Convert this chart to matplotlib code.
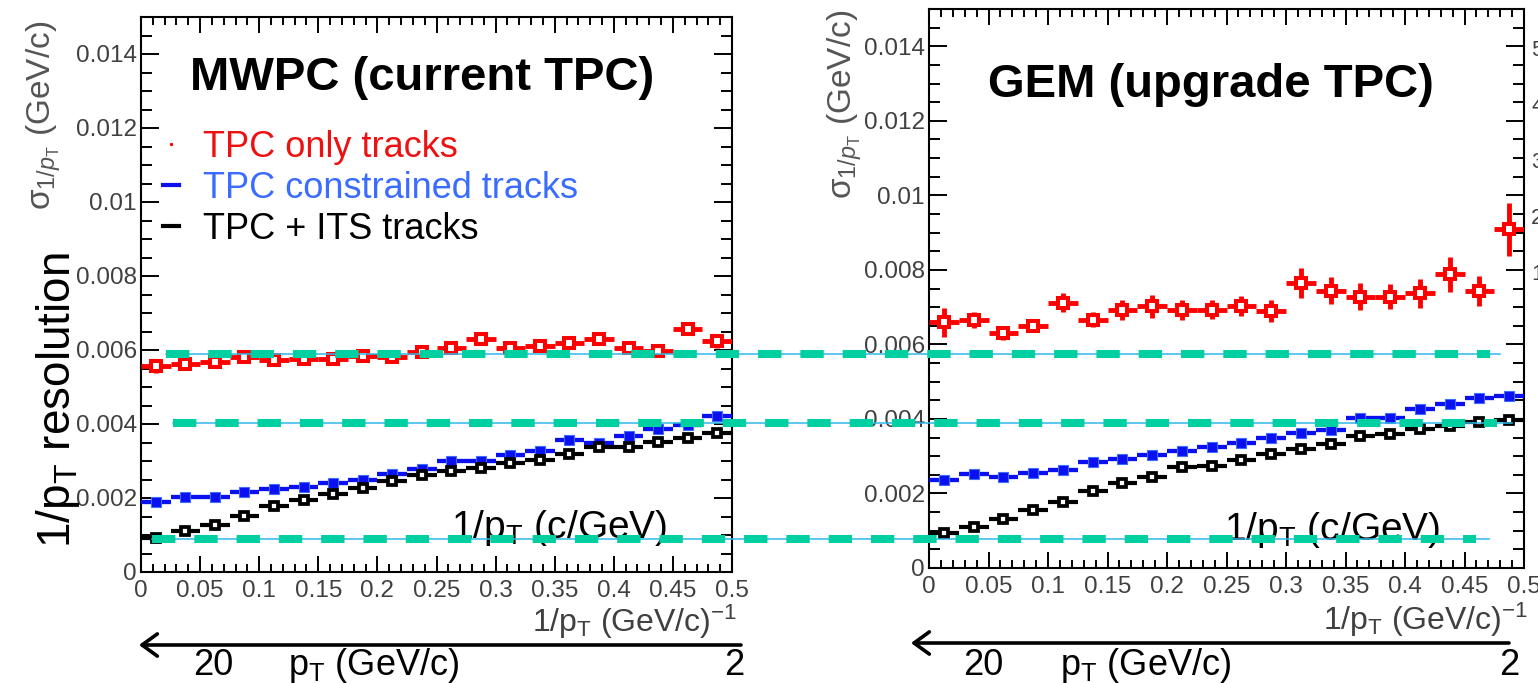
import matplotlib
matplotlib.use("Agg")
import matplotlib.pyplot as plt
import matplotlib.transforms as mtransforms
from matplotlib.lines import Line2D
from matplotlib.ticker import MultipleLocator, FuncFormatter

plt.rcParams['font.family'] = ['Liberation Sans', 'DejaVu Sans']
plt.rcParams['mathtext.fontset'] = 'custom'
plt.rcParams['mathtext.rm'] = 'Liberation Sans'
plt.rcParams['mathtext.it'] = 'Liberation Sans:italic'
plt.rcParams['mathtext.bf'] = 'Liberation Sans:bold'

# bins in 1/pT (GeV/c)^-1
bin_centers = [0.0125, 0.0375, 0.0625, 0.0875, 0.1125, 0.1375, 0.1625, 0.1875, 0.2125, 0.2375,
               0.2625, 0.2875, 0.3125, 0.3375, 0.3625, 0.3875, 0.4125, 0.4375, 0.4625, 0.4875]
bin_width = 0.025

# MWPC (current TPC)
mwpc_tpc_only = [0.00557, 0.00562, 0.00568, 0.00582, 0.00572, 0.00577, 0.00577, 0.00584, 0.00582, 0.00595,
                 0.00606, 0.00629, 0.00606, 0.00610, 0.00618, 0.00629, 0.00606, 0.00597, 0.00658, 0.00624]
mwpc_tpc_only_err = [0.00020, 0.00012, 0.00012, 0.00012, 0.00012, 0.00012, 0.00012, 0.00013, 0.00012, 0.00012,
                     0.00013, 0.00013, 0.00013, 0.00013, 0.00014, 0.00014, 0.00014, 0.00015, 0.00018, 0.00018]
mwpc_constrained = [0.00189, 0.00204, 0.00204, 0.00215, 0.00224, 0.00231, 0.00240, 0.00248, 0.00265, 0.00278,
                    0.00299, 0.00299, 0.00317, 0.00328, 0.00357, 0.00348, 0.00368, 0.00386, 0.00397, 0.00422]
mwpc_its = [0.00093, 0.00110, 0.00128, 0.00152, 0.00178, 0.00194, 0.00212, 0.00227, 0.00245, 0.00263,
            0.00274, 0.00281, 0.00294, 0.00303, 0.00319, 0.00337, 0.00339, 0.00352, 0.00361, 0.00375]

# GEM (upgrade TPC)
gem_tpc_only = [0.00659, 0.00666, 0.00630, 0.00650, 0.00712, 0.00666, 0.00693, 0.00702, 0.00693, 0.00693,
                0.00704, 0.00690, 0.00764, 0.00744, 0.00728, 0.00728, 0.00737, 0.00788, 0.00744, 0.00909]
gem_tpc_only_err = [0.00040, 0.00022, 0.00018, 0.00018, 0.00025, 0.00020, 0.00027, 0.00030, 0.00027, 0.00026,
                    0.00027, 0.00030, 0.00040, 0.00036, 0.00036, 0.00034, 0.00038, 0.00047, 0.00040, 0.00071]
gem_constrained = [0.00236, 0.00252, 0.00245, 0.00254, 0.00263, 0.00284, 0.00292, 0.00303, 0.00313, 0.00326,
                   0.00335, 0.00349, 0.00362, 0.00371, 0.00403, 0.00403, 0.00427, 0.00439, 0.00457, 0.00461]
gem_its = [0.00095, 0.00110, 0.00132, 0.00155, 0.00177, 0.00207, 0.00227, 0.00245, 0.00270, 0.00274,
           0.00290, 0.00306, 0.00319, 0.00333, 0.00353, 0.00360, 0.00373, 0.00380, 0.00391, 0.00398]
small_err = 0.00005

legend_labels = ['TPC only tracks', 'TPC constrained tracks', 'TPC + ITS tracks']
panel_titles = ['MWPC (current TPC)', 'GEM (upgrade TPC)']

# reference levels (dashed) in units of the left axis
ref_levels = [0.00589, 0.00403, 0.00089]

RED = '#ff0000'
BLUE = '#0a10f0'
TEAL = '#00cfa2'
CYAN = '#30b8ea'
GREY = '#404040'

W, H = 1538, 683
fig = plt.figure(figsize=(W / 100, H / 100), dpi=100)


def fx(x):
    return x / W


def fy(y):
    return 1 - y / H


axL = fig.add_axes([fx(141), fy(572), (732 - 141) / W, (572 - 17) / H])
axR = fig.add_axes([fx(929), fy(568), (1524 - 929) / W, (568 - 9) / H])


def fmt(v, _):
    return f"{round(v, 4):g}"


def style(ax):
    ax.set_xlim(0, 0.5)
    ax.set_ylim(0, 0.015)
    ax.xaxis.set_major_locator(MultipleLocator(0.05))
    ax.xaxis.set_minor_locator(MultipleLocator(0.01))
    ax.yaxis.set_major_locator(MultipleLocator(0.002))
    ax.yaxis.set_minor_locator(MultipleLocator(0.0005))
    ax.xaxis.set_major_formatter(FuncFormatter(fmt))
    ax.yaxis.set_major_formatter(FuncFormatter(fmt))
    ax.tick_params(which='both', direction='in', top=True, right=True, width=1.4,
                   labelsize=17.5, labelcolor=GREY)
    ax.tick_params(axis='x', which='major', length=11.5, pad=6)
    ax.tick_params(axis='x', which='minor', length=5.8)
    ax.tick_params(axis='y', which='major', length=13, pad=3)
    ax.tick_params(axis='y', which='minor', length=8)
    for s in ax.spines.values():
        s.set_linewidth(1.5)


def series(ax, y, yerr, color, filled, lw, ms, mew, z):
    ax.errorbar(bin_centers, y, xerr=bin_width / 2, yerr=yerr, fmt='s', color=color,
                ecolor=color, mec=color if not filled else '#3f6cff',
                mfc=color if filled else 'white', ms=ms, mew=mew,
                elinewidth=lw, capsize=0, zorder=z)


for ax, red, red_err, blue, black in [
        (axL, mwpc_tpc_only, mwpc_tpc_only_err, mwpc_constrained, mwpc_its),
        (axR, gem_tpc_only, gem_tpc_only_err, gem_constrained, gem_its)]:
    style(ax)
    series(ax, blue, small_err, BLUE, True, 3.1, 7.2, 0.8, 3)
    series(ax, black, small_err, 'black', False, 3.0, 6.2, 2.7, 4)
    series(ax, red, red_err, RED, False, 3.5, 6.8, 2.9, 5)


def ftext(x, y, s, **kw):
    return fig.text(fx(x), fy(y), s, **kw)


# panel titles
ftext(190, 90, panel_titles[0], fontsize=34, fontweight='bold', ha='left', va='baseline')
ftext(988, 97, panel_titles[1], fontsize=34, fontweight='bold', ha='left', va='baseline')

# legend
handles = [Line2D([], [], color=RED, marker='s', ms=1.2, ls='none'),
           Line2D([], [], color=BLUE, lw=3),
           Line2D([], [], color='black', lw=3)]
leg = fig.legend(handles, legend_labels, loc='upper left', bbox_to_anchor=(fx(163), fy(130)),
                 frameon=False, fontsize=26, handlelength=0.45, handletextpad=0.65,
                 borderpad=0, borderaxespad=0, labelspacing=0.16,
                 labelcolor=['#ee1111', '#3a6cff', 'black'])

# y labels
ftext(58, 400, r'1/p$_\mathrm{T}$ resolution', fontsize=33, rotation=90, ha='center', va='center')
for xc, yc in [(44, 115), (845, 104)]:
    ftext(xc, yc, r'$\mathrm{\sigma}_{1/p_\mathrm{T}}$ (GeV/c)', fontsize=24, rotation=90,
          ha='center', va='center', color='#555555')

# inner x annotations
ftext(451, 538, r'1/p$_\mathrm{T}$ (c/GeV)', fontsize=28, ha='left', va='baseline')
ftext(1224, 540, r'1/p$_\mathrm{T}$ (c/GeV)', fontsize=28, ha='left', va='baseline')

# x axis labels
ftext(737, 632, r'1/p$_\mathrm{T}$ (GeV/c)$^{-1}$', fontsize=23, ha='right', va='baseline', color=GREY)
ftext(1528, 630, r'1/p$_\mathrm{T}$ (GeV/c)$^{-1}$', fontsize=23, ha='right', va='baseline', color=GREY)

# pT arrows
for tip, tail, y in [(139, 741, 645), (911, 1509, 643)]:
    fig.add_artist(matplotlib.patches.FancyArrowPatch(
        (fx(tail), fy(y)), (fx(tip), fy(y)), transform=fig.transFigure,
        arrowstyle='->,head_length=11,head_width=8', lw=2.6, color='black',
        mutation_scale=1, shrinkA=0, shrinkB=0))

for x20, xpt, x2 in [(193, 288, 724), (963, 1060, 1499)]:
    ftext(x20, 675, '20', fontsize=26, ha='left', va='baseline')
    ftext(xpt, 675, r'p$_\mathrm{T}$ (GeV/c)', fontsize=26, ha='left', va='baseline')
    ftext(x2, 675, '2', fontsize=26, ha='left', va='baseline')

# labels of a neighbouring axis, cropped by the right edge as in the original slide
for d, yy in zip(['5', '4', '3', '2', '1'], [50, 107, 163, 218, 275]):
    ftext(1531, yy, d, fontsize=16, ha='left', va='center', color=GREY)

# dashed reference levels across both panels
blend = mtransforms.blended_transform_factory(fig.transFigure, axL.transData)
starts = [166, 173, 152]
dash_ends = [1490, 1497, 1476]
thin_ends = [1500, 1512, 1489]
for lev, x0, x1, x2 in zip(ref_levels, starts, dash_ends, thin_ends):
    fig.add_artist(Line2D([fx(x0), fx(x2)], [lev, lev], transform=blend, color=CYAN,
                          lw=1.1, zorder=6))
    fig.add_artist(Line2D([fx(x0), fx(x1)], [lev, lev], transform=blend, color=TEAL,
                          lw=5.8, dashes=(2.9, 2.35), solid_capstyle='butt',
                          dash_capstyle='butt', zorder=7))

fig.savefig('out.png', dpi=100)
